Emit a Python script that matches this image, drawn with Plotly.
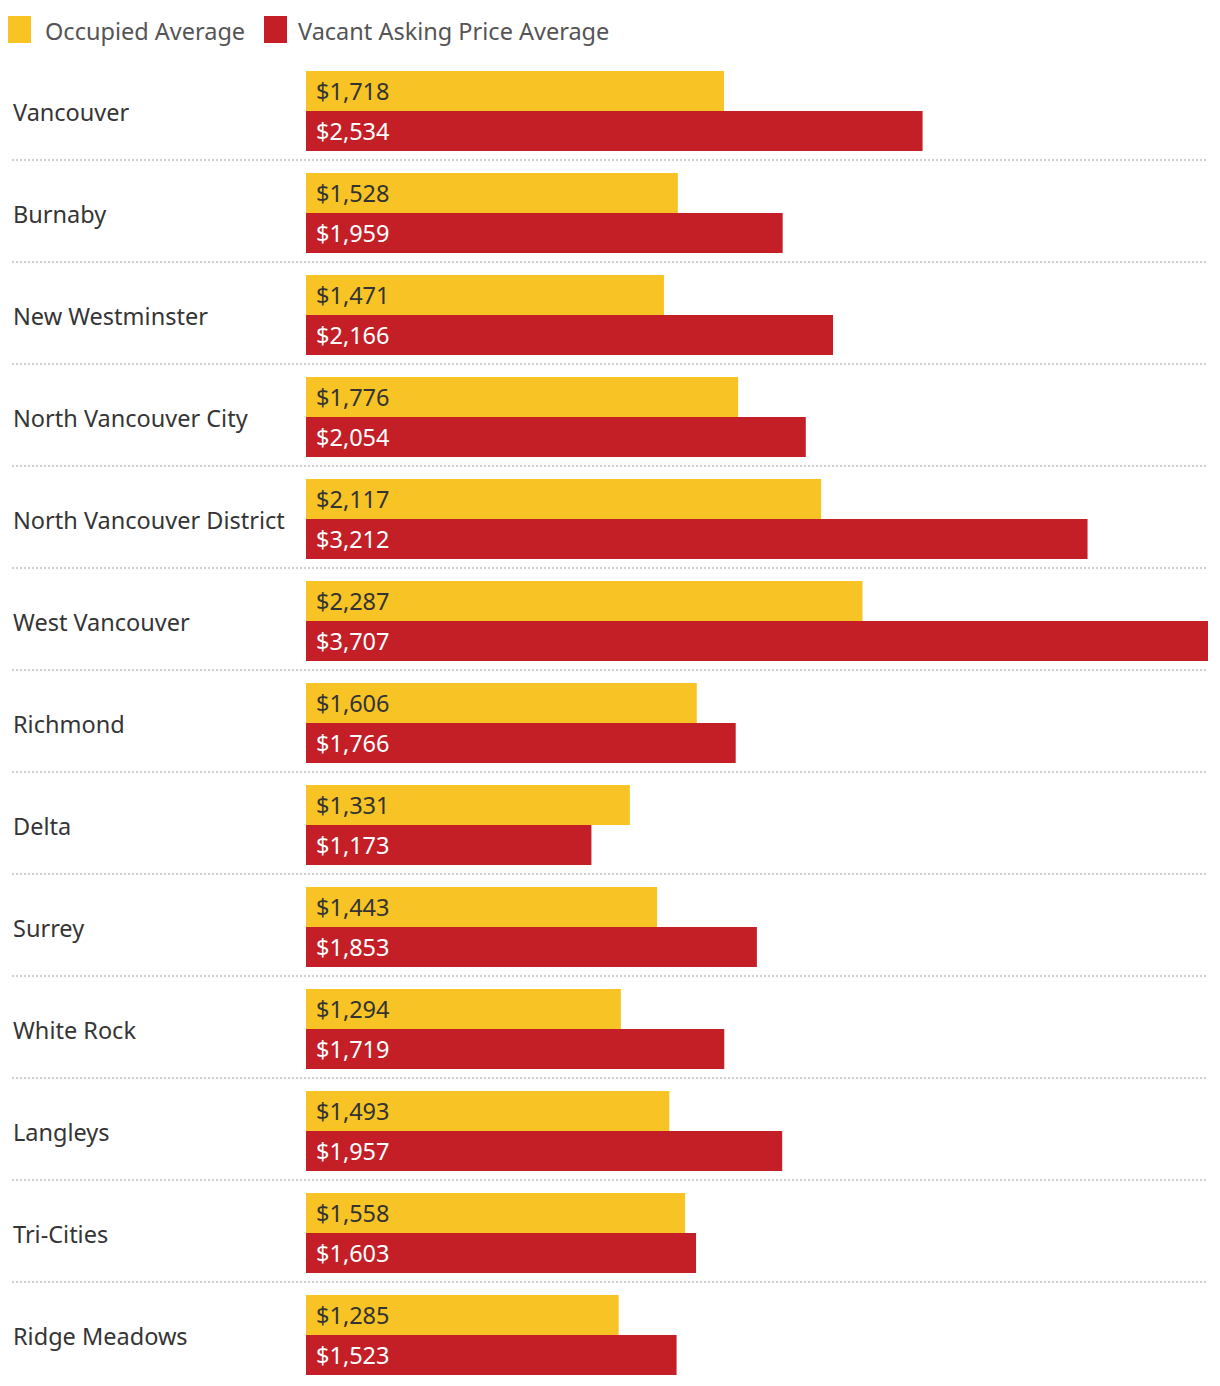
import plotly.graph_objects as go

regions = ["Vancouver", "Burnaby", "New Westminster", "North Vancouver City",
           "North Vancouver District", "West Vancouver", "Richmond", "Delta",
           "Surrey", "White Rock", "Langleys", "Tri-Cities", "Ridge Meadows"]
occupied = [1718, 1528, 1471, 1776, 2117, 2287, 1606, 1331, 1443, 1294, 1493, 1558, 1285]
vacant = [2534, 1959, 2166, 2054, 3212, 3707, 1766, 1173, 1853, 1719, 1957, 1603, 1523]
series_names = ["Occupied Average", "Vacant Asking Price Average"]

YELLOW = "#F7C325"
RED = "#C41F27"
FONT = "Noto Sans"
FS = 23.5

OFF = 8  # page body margin
W, H = 1220 - 2 * OFF, 1386 - OFF
L, R, T, B = 306 - OFF, 4, 60 - OFF, 0
pw = W - L - R
ph = H - T - B

fig = go.Figure()
fig.add_trace(go.Bar(y=regions, x=occupied, orientation="h", name=series_names[0],
                     marker=dict(color=YELLOW, line=dict(width=0)), hoverinfo="x+name"))
fig.add_trace(go.Bar(y=regions, x=vacant, orientation="h", name=series_names[1],
                     marker=dict(color=RED, line=dict(width=0)), hoverinfo="x+name"))

n = len(regions)
annotations = []
shapes = []
lx = (11 - OFF - L) / pw
sx0 = (12 - OFF - L) / pw
for i, r in enumerate(regions):
    annotations.append(dict(x=lx, xref="paper", y=r, yref="y", text=r,
                            showarrow=False, xanchor="left", yanchor="middle", yshift=-1,
                            font=dict(family=FONT, size=FS, color="#353535")))
    annotations.append(dict(x=0, xref="x", y=r, yref="y", text="${:,}".format(occupied[i]),
                            showarrow=False, xanchor="left", yanchor="middle", xshift=8, yshift=20,
                            font=dict(family=FONT, size=FS, color="#333333")))
    annotations.append(dict(x=0, xref="x", y=r, yref="y", text="${:,}".format(vacant[i]),
                            showarrow=False, xanchor="left", yanchor="middle", xshift=8, yshift=-20,
                            font=dict(family=FONT, size=FS, color="#FFFFFF")))
    if i < n - 1:
        shapes.append(dict(type="line", xref="paper", yref="y",
                           x0=sx0, x1=1, y0=i + 0.48, y1=i + 0.48,
                           line=dict(color="#D0D0D0", width=2, dash="2px,2px")))

# legend (page coords converted)
legend_items = [(8, 43, YELLOW, series_names[0]), (264, 296, RED, series_names[1])]
for sx, tx, col, name in legend_items:
    shapes.append(dict(type="rect", xref="paper", yref="paper",
                       x0=(sx - OFF - L) / pw, x1=(sx + 23 - OFF - L) / pw,
                       y0=(H - (43 - OFF) - B) / ph, y1=(H - (16 - OFF) - B) / ph,
                       fillcolor=col, line=dict(width=0)))
    annotations.append(dict(x=(tx - OFF - L) / pw, xref="paper", y=(H - (31 - OFF) - B) / ph,
                            yref="paper", text=name, showarrow=False, xanchor="left",
                            yanchor="middle",
                            font=dict(family=FONT, size=FS, color="#555555")))

fig.update_layout(
    width=W, height=H,
    margin=dict(l=L, r=R, t=T, b=B, pad=0),
    barmode="group", bargap=0.216, bargroupgap=0,
    plot_bgcolor="white", paper_bgcolor="white",
    showlegend=False,
    xaxis=dict(range=[0, 3707], showgrid=False, zeroline=False, showticklabels=False,
               ticks="", showline=False, fixedrange=True),
    yaxis=dict(autorange="reversed", showgrid=False, zeroline=False, showticklabels=False,
               ticks="", showline=False, fixedrange=True),
    annotations=annotations, shapes=shapes,
    font=dict(family=FONT),
)

fig.write_html("out.html")
